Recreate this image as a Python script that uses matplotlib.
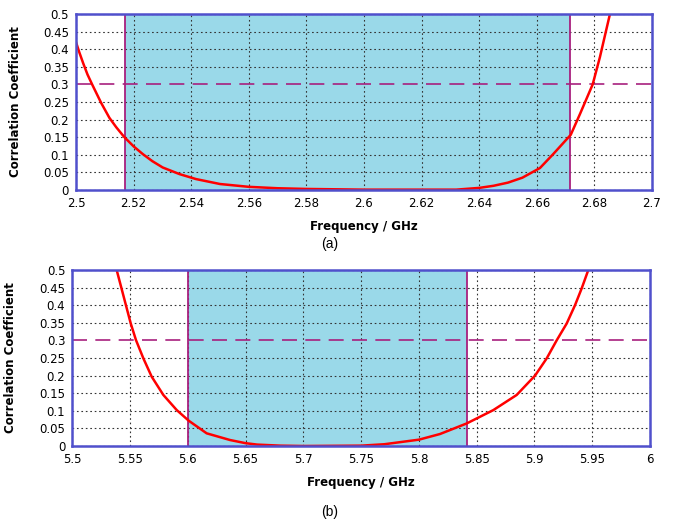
import matplotlib.pyplot as plt

# (a) 2.5 - 2.7 GHz band
freq_a = [2.500, 2.5012, 2.5025, 2.504, 2.5056, 2.5087, 2.5116, 2.514, 2.5168, 2.520,
          2.5232, 2.5265, 2.5301, 2.5360, 2.5417, 2.550, 2.560, 2.570, 2.580, 2.600,
          2.620, 2.632, 2.640, 2.645, 2.650, 2.655, 2.6611, 2.6657, 2.6718, 2.675,
          2.6794, 2.6819, 2.6854]
corr_a = [0.420, 0.390, 0.360, 0.328, 0.300, 0.248, 0.205, 0.178, 0.150, 0.124,
          0.102, 0.082, 0.064, 0.045, 0.031, 0.017, 0.009, 0.005, 0.003, 0.001,
          0.001, 0.001, 0.006, 0.012, 0.021, 0.035, 0.0625, 0.102, 0.157, 0.216,
          0.300, 0.377, 0.500]
band_a = [2.517, 2.6715]

# (b) 5.5 - 6 GHz band
freq_b = [5.5384, 5.5505, 5.5551, 5.5615, 5.5687, 5.5788, 5.5904, 5.6007, 5.6163, 5.6365,
          5.650, 5.660, 5.680, 5.700, 5.750, 5.770, 5.800, 5.8182, 5.8413, 5.8644, 5.8846,
          5.9005, 5.9106, 5.9192, 5.9279, 5.9351, 5.9409, 5.9466]
corr_b = [0.500, 0.349, 0.301, 0.249, 0.197, 0.145, 0.102, 0.072, 0.036, 0.017,
          0.008, 0.004, 0.001, 0.000, 0.001, 0.005, 0.018, 0.034, 0.064, 0.102, 0.145,
          0.200, 0.249, 0.300, 0.348, 0.400, 0.448, 0.500]
band_b = [5.600, 5.842]

threshold = 0.3
yticks = [0, 0.05, 0.1, 0.15, 0.2, 0.25, 0.3, 0.35, 0.4, 0.45, 0.5]
xticks_a = [2.5, 2.52, 2.54, 2.56, 2.58, 2.6, 2.62, 2.64, 2.66, 2.68, 2.7]
xticks_b = [5.5, 5.55, 5.6, 5.65, 5.7, 5.75, 5.8, 5.85, 5.9, 5.95, 6]

blue = '#5050cc'
purple = '#a8207e'
fill = '#9ad9e9'

fig = plt.figure(figsize=(6.75, 5.26), dpi=100)
ax_a = fig.add_axes([76 / 675, 1 - 190 / 526, 576 / 675, 176 / 526])
ax_b = fig.add_axes([72.3 / 675, 1 - 446 / 526, 577.7 / 675, 176 / 526])


def draw(ax, f, c, band, xticks, xlim, lab_x):
    ax.axvspan(band[0], band[1], color=fill, zorder=1, lw=0)
    ax.axvline(band[0], color=purple, lw=1.3, zorder=3)
    ax.axvline(band[1], color=purple, lw=1.3, zorder=3)
    ax.axhline(threshold, color=purple, lw=1.2, ls=(0, (9, 5)), zorder=3)
    ax.plot(f, c, color='red', lw=1.8, zorder=4, clip_on=True)
    ax.set_xlim(xlim)
    ax.set_ylim(0, 0.5)
    ax.set_xticks(xticks)
    ax.set_yticks(yticks)
    ax.set_xticklabels([('%g' % t) for t in xticks])
    ax.set_yticklabels([('%g' % t) for t in yticks])
    ax.grid(True, color='#333333', ls=(0, (1.5, 2.5)), lw=0.8)
    # the threshold line replaces the grid line at 0.3
    ax.yaxis.get_gridlines()[yticks.index(threshold)].set_visible(False)
    ax.tick_params(length=0, labelsize=8.5, pad=5)
    for s in ax.spines.values():
        s.set_color(blue)
        s.set_linewidth(1.8)
        s.set_zorder(5)
    ax.set_ylabel('Correlation Coefficient', fontsize=8.5, fontweight='bold')
    ax.yaxis.set_label_coords(lab_x, 0.5)
    ax.set_xlabel('Frequency / GHz', fontsize=8.5, fontweight='bold', labelpad=7)


draw(ax_a, freq_a, corr_a, band_a, xticks_a, (2.5, 2.7), -0.094)
draw(ax_b, freq_b, corr_b, band_b, xticks_b, (5.5, 6.0), -0.095)

fig.text(330 / 675, 1 - 244 / 526, '(a)', ha='center', va='center',
         fontsize=10, family='Liberation Sans')
fig.text(330 / 675, 1 - 512 / 526, '(b)', ha='center', va='center',
         fontsize=10, family='Liberation Sans')

fig.savefig('out.png', dpi=100)
